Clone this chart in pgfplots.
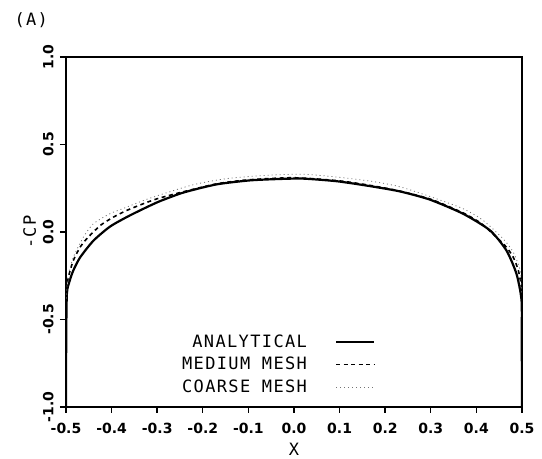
\documentclass[border=0pt]{standalone}
\usepackage{fontspec}
\setmainfont{DejaVu Sans}
\newfontfamily\plotfont[LetterSpace=8]{DejaVu Sans Mono}
\usepackage{pgfplots}
\pgfplotsset{compat=1.18}

\begin{document}
\begin{tikzpicture}
  \begin{axis}[
    at={(0pt,0pt)}, anchor=south west,
    scale only axis,
    width=456pt, height=350pt,
    xmin=-0.5, xmax=0.5,
    ymin=-1.0, ymax=1.0,
    xtick={-0.5,-0.4,-0.3,-0.2,-0.1,0,0.1,0.2,0.3,0.4,0.5},
    ytick={-1,-0.5,0,0.5,1},
    tick align=outside,
    xtick pos=bottom, ytick pos=left,
    major tick length=6pt,
    tick style={line width=1.4pt, black},
    axis line style={line width=2pt},
    ticklabel style={font=\fontsize{14}{16}\selectfont\bfseries},
    yticklabel style={rotate=90, anchor=south, yshift=3pt},
    xticklabel style={yshift=-7pt},
    /pgf/number format/.cd, fixed, fixed zerofill, precision=1, assume math mode=true,
    /pgfplots/.cd,
    xlabel={\plotfont\fontsize{17}{20}\selectfont X},
    ylabel={\plotfont\fontsize{17}{20}\selectfont -CP},
    xlabel style={yshift=-2pt},
    legend plot pos=right,
    legend cell align=right,
    legend image code/.code={\draw[#1] (0pt,0pt) -- (38pt,0pt);},
    legend style={at={(0.685,0.025)}, anchor=south east, draw=none, fill=none,
      font=\plotfont\fontsize{17}{20}\selectfont, column sep=26pt, row sep=4.5pt},
  ]
    \addplot[black, line width=2.2pt, smooth, tension=0.4] coordinates {
      (-0.5,-1.0) (-0.4995,-0.6) (-0.498,-0.35) (-0.492,-0.28) (-0.484,-0.22) (-0.469,-0.145)
      (-0.44,-0.05) (-0.404,0.03) (-0.367,0.085) (-0.33,0.133) (-0.295,0.175)
      (-0.243,0.225) (-0.17,0.272) (-0.096,0.295) (-0.03,0.303) (0.02,0.305)
      (0.094,0.29) (0.167,0.262) (0.232,0.232) (0.298,0.185) (0.371,0.104)
      (0.43,0.009) (0.466,-0.106) (0.488,-0.24) (0.499,-0.39) (0.4995,-0.6) (0.5,-1.0)
    };
    \addlegendentry{ANALYTICAL}

    \addplot[black, line width=1.6pt, dash pattern=on 4pt off 3.5pt, smooth, tension=0.4] coordinates {
      (-0.4985,-0.33) (-0.495,-0.26) (-0.484,-0.163) (-0.469,-0.087) (-0.455,-0.04)
      (-0.425,0.037) (-0.396,0.085) (-0.367,0.123) (-0.33,0.162) (-0.3,0.19)
      (-0.25,0.225) (-0.17,0.275) (-0.1,0.298) (0,0.31) (0.1,0.292) (0.17,0.265)
      (0.23,0.235) (0.3,0.187) (0.37,0.11) (0.41,0.05) (0.444,-0.03) (0.466,-0.087)
      (0.481,-0.145) (0.492,-0.22) (0.499,-0.32) (0.5,-0.45)
    };
    \addlegendentry{MEDIUM MESH}

    \addplot[black!55, line width=0.8pt, dash pattern=on 1pt off 3pt, smooth, tension=0.4] coordinates {
      (-0.499,-0.38) (-0.496,-0.26) (-0.484,-0.145) (-0.462,-0.03) (-0.44,0.047)
      (-0.404,0.104) (-0.367,0.142) (-0.33,0.18) (-0.294,0.212) (-0.221,0.27)
      (-0.148,0.305) (-0.06,0.324) (0.02,0.33) (0.094,0.314) (0.167,0.291)
      (0.23,0.26) (0.298,0.203) (0.371,0.133) (0.415,0.066) (0.459,-0.04)
      (0.481,-0.116) (0.496,-0.22) (0.499,-0.35)
    };
    \addlegendentry{COARSE MESH}
  \end{axis}
  \node[anchor=west, font=\plotfont\fontsize{17}{20}\selectfont] at (-55pt,387pt) {(A)};
  \useasboundingbox (-66pt,-48pt) rectangle (476pt,407pt);
\end{tikzpicture}
\end{document}
